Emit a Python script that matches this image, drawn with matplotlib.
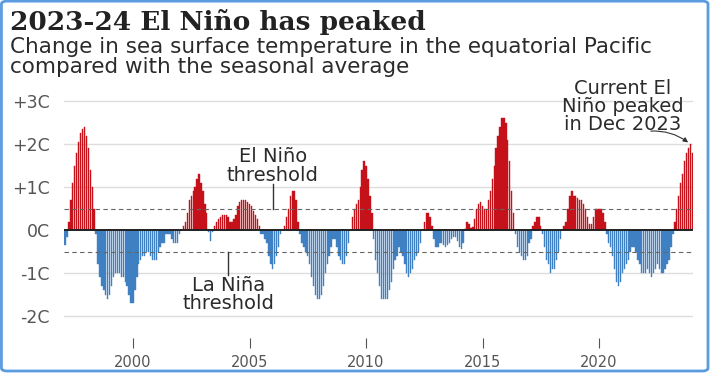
import numpy as np
import matplotlib.pyplot as plt
from matplotlib.patches import FancyBboxPatch

# Monthly sea surface temperature anomaly (C), equatorial Pacific, Feb 1997 - Jan 2024
START_YEAR, START_MONTH = 1997, 2
anomaly = [
    -0.35, -0.15, 0.2, 0.7, 1.1, 1.5, 1.8, 2.05, 2.25, 2.35, 2.4,          # 1997
    2.2, 1.9, 1.4, 1.0, 0.5, -0.1, -0.8, -1.1, -1.3, -1.4, -1.5, -1.6,      # 1998
    -1.5, -1.3, -1.1, -1.0, -1.0, -1.0, -1.1, -1.1, -1.2, -1.3, -1.5, -1.7, # 1999
    -1.7, -1.4, -1.1, -0.8, -0.7, -0.6, -0.6, -0.5, -0.5, -0.6, -0.7, -0.7, # 2000
    -0.7, -0.5, -0.4, -0.3, -0.3, -0.1, -0.1, -0.1, -0.2, -0.3, -0.3, -0.3, # 2001
    -0.1, 0.0, 0.1, 0.2, 0.4, 0.7, 0.8, 0.9, 1.0, 1.2, 1.3, 1.1,            # 2002
    0.9, 0.6, 0.4, -0.05, -0.25, -0.05, 0.1, 0.2, 0.25, 0.3, 0.35, 0.35,    # 2003
    0.35, 0.3, 0.2, 0.2, 0.25, 0.35, 0.55, 0.65, 0.7, 0.7, 0.7, 0.65,       # 2004
    0.6, 0.55, 0.45, 0.35, 0.25, 0.1, -0.1, -0.1, -0.2, -0.3, -0.6, -0.8,   # 2005
    -0.9, -0.8, -0.6, -0.4, -0.1, 0.0, 0.1, 0.3, 0.5, 0.8, 0.9, 0.9,        # 2006
    0.7, 0.2, -0.1, -0.3, -0.4, -0.5, -0.6, -0.8, -1.1, -1.3, -1.5, -1.6,   # 2007
    -1.6, -1.5, -1.3, -1.0, -0.8, -0.6, -0.4, -0.2, -0.2, -0.4, -0.6, -0.7, # 2008
    -0.8, -0.8, -0.6, -0.3, 0.0, 0.3, 0.5, 0.6, 0.7, 1.0, 1.4, 1.6,         # 2009
    1.5, 1.2, 0.8, 0.4, -0.2, -0.7, -1.0, -1.3, -1.6, -1.6, -1.6, -1.6,     # 2010
    -1.4, -1.2, -0.9, -0.7, -0.6, -0.4, -0.5, -0.6, -0.8, -1.0, -1.1, -1.0, # 2011
    -0.9, -0.7, -0.6, -0.5, -0.3, 0.0, 0.2, 0.4, 0.4, 0.3, 0.1, -0.2,       # 2012
    -0.4, -0.4, -0.3, -0.3, -0.35, -0.4, -0.35, -0.3, -0.2, -0.15, -0.15, -0.25,  # 2013
    -0.4, -0.45, -0.3, 0.03, 0.2, 0.15, 0.05, 0.07, 0.25, 0.5, 0.6, 0.65,   # 2014
    0.55, 0.5, 0.5, 0.7, 0.9, 1.2, 1.5, 1.9, 2.2, 2.4, 2.6, 2.6,            # 2015
    2.5, 2.1, 1.6, 0.9, 0.4, -0.1, -0.4, -0.5, -0.6, -0.7, -0.7, -0.6,      # 2016
    -0.3, -0.2, 0.1, 0.2, 0.3, 0.3, 0.1, -0.1, -0.4, -0.7, -0.8, -1.0,      # 2017
    -0.9, -0.9, -0.7, -0.5, -0.2, 0.0, 0.1, 0.2, 0.5, 0.8, 0.9, 0.8,        # 2018
    0.8, 0.75, 0.7, 0.7, 0.6, 0.5, 0.3, 0.15, 0.15, 0.3, 0.5, 0.5,          # 2019
    0.5, 0.5, 0.4, 0.2, -0.1, -0.3, -0.4, -0.6, -0.9, -1.2, -1.3, -1.2,     # 2020
    -1.0, -0.9, -0.8, -0.7, -0.5, -0.4, -0.4, -0.5, -0.7, -0.8, -1.0, -1.0, # 2021
    -1.0, -0.9, -1.0, -1.1, -1.0, -0.9, -0.8, -0.9, -1.0, -1.0, -0.9, -0.8, # 2022
    -0.7, -0.4, -0.1, 0.2, 0.5, 0.8, 1.1, 1.3, 1.6, 1.8, 1.9, 2.0,          # 2023
    1.8,                                                                    # 2024
]
year_ticks = [2000, 2005, 2010, 2015, 2020]
temp_ticks = [-2, -1, 0, 1, 2, 3]
temp_labels = ["-2C", "-1C", "0C", "+1C", "+2C", "+3C"]
threshold = 0.5

RED = "#c5121a"
BLUE = "#3f80c2"
SANS = "DejaVu Sans"
INK = "#2b2b2b"

vals = np.array(anomaly)
months = START_YEAR + (START_MONTH - 1 + np.arange(len(vals))) / 12
colors = np.where(vals >= 0, RED, BLUE)

fig = plt.figure(figsize=(7.13, 3.74), dpi=100)
ax = fig.add_axes([64 / 713, 36 / 374, 629 / 713, 239 / 374])

ax.bar(months, vals, width=0.7 / 12, color=colors, edgecolor=colors, linewidth=0.3, zorder=2)

for t in temp_ticks:
    if t != 0:
        ax.axhline(t, color="#dddddd", lw=1, zorder=1)
ax.axhline(0, color="#222222", lw=1.4, zorder=3)
for t in (threshold, -threshold):
    ax.axhline(t, color="#666666", lw=0.8, ls=(0, (4, 3)), zorder=4)

ax.set_xlim(1997.04, 2024.03)
ax.set_ylim(-2.51, 3.05)
for s in ax.spines.values():
    s.set_visible(False)

ax.set_xticks(year_ticks)
ax.set_xticklabels([str(y) for y in year_ticks], fontsize=10.5, color="#555555", family=SANS)
ax.tick_params(axis="x", length=7, width=0.8, color="#555555", pad=5)
ax.set_yticks(temp_ticks)
ax.set_yticklabels(temp_labels, fontsize=12.5, color="#555555", family=SANS)
ax.tick_params(axis="y", length=0, pad=10)

# annotations
note = dict(fontsize=14, color=INK, family=SANS, linespacing=0.95)
ax.text(2006.0, 1.49, "El Niño\nthreshold", ha="center", va="center", **note)
ax.plot([2006.0, 2006.0], [1.08, threshold], color="#333333", lw=1, zorder=5)
ax.text(2004.08, -1.5, "La Niña\nthreshold", ha="center", va="center", **note)
ax.plot([2004.08, 2004.08], [-threshold, -1.05], color="#333333", lw=1, zorder=5)

peak = len(vals) - 2
ax.text(2021.0, 2.88, "Current El\nNiño peaked\nin Dec 2023", ha="center", va="center", **note)
ax.annotate("", xy=(months[peak], vals[peak]), xytext=(2022.1, 2.3),
            arrowprops=dict(arrowstyle="-|>", color="#333333", lw=0.8, mutation_scale=7,
                            connectionstyle="arc3,rad=-0.2"))

fig.text(10 / 713, 1 - 30 / 374, "2023-24 El Niño has peaked", fontsize=19,
         fontweight="bold", family="DejaVu Serif", color="#222222", va="baseline")
fig.text(10 / 713, 1 - 53 / 374, "Change in sea surface temperature in the equatorial Pacific",
         fontsize=15.5, family=SANS, color=INK, va="baseline")
fig.text(10 / 713, 1 - 73 / 374, "compared with the seasonal average",
         fontsize=15.5, family=SANS, color=INK, va="baseline")

border = FancyBboxPatch((0.002, 0.008), 0.991, 0.989, boxstyle="round,pad=0,rounding_size=0.008",
                        transform=fig.transFigure, fc="none", ec="#5b9be0", lw=2)
fig.patches.append(border)

fig.savefig("out.png", dpi=100)
